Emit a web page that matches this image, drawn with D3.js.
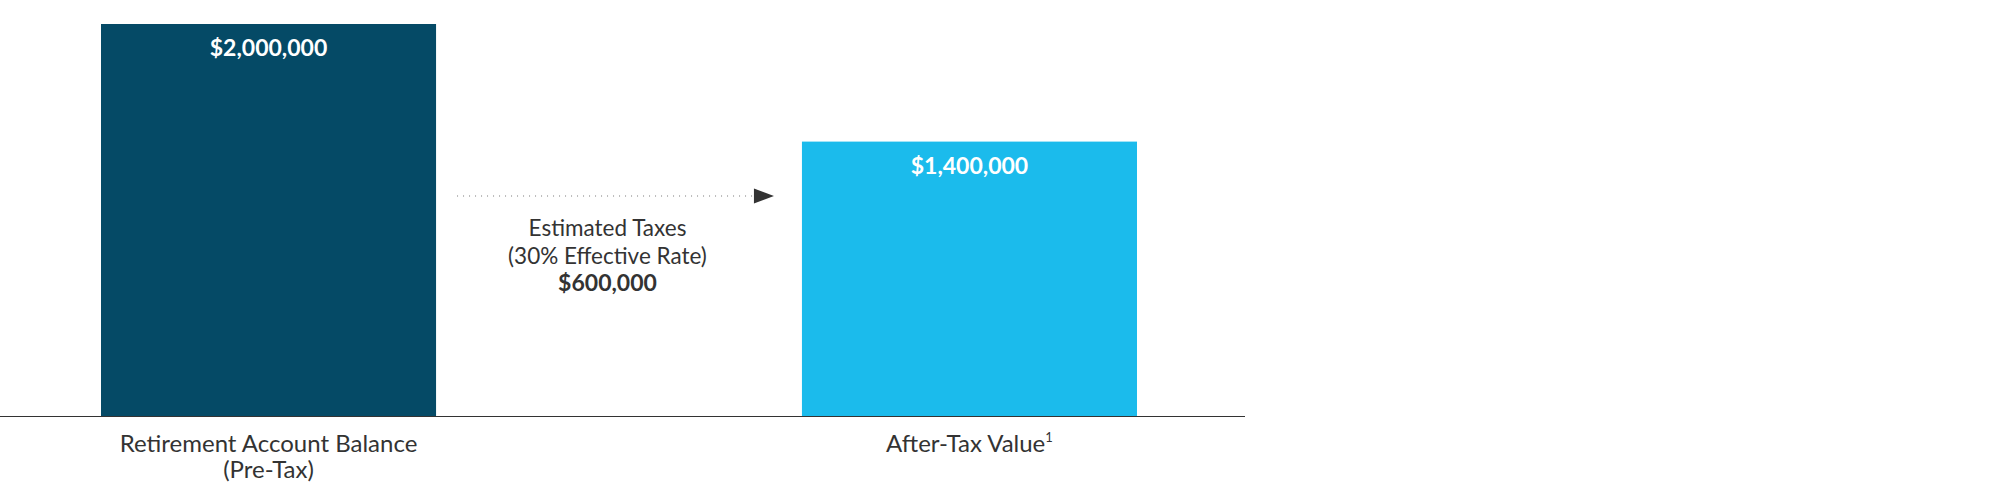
<!DOCTYPE html>
<html>
<head>
<meta charset="utf-8">
<script src="https://cdn.jsdelivr.net/npm/d3@7"></script>
<style>
  body { margin: 0; background: #fff; }
  svg { display: block; font-family: Lato, "Open Sans", sans-serif; }
</style>
</head>
<body>
<svg id="chart"></svg>
<script>
const categories = ['Retirement Account Balance|(Pre-Tax)', 'After-Tax Value']
const values = [2000000, 1400000]
const valueLabels = ['$2,000,000', '$1,400,000']
const barColors = ['#054a66', '#1bbbec']
const taxLines = ['Estimated Taxes', '(30% Effective Rate)']
const taxAmount = '$600,000'

const width = 2000
const height = 499
const baseY = 416

const svg = d3.select('#chart')
    .attr('width', width)
    .attr('height', height)

const xScale = d3.scaleBand()
    .domain(categories)
    .range([101, 1137])
    .paddingInner(0.522)
    .paddingOuter(0)

const yScale = d3.scaleLinear()
    .domain([0, d3.max(values)])
    .range([baseY, 24])

// bars
svg.selectAll('.bar')
    .data(values)
    .join('rect')
    .attr('class', 'bar')
    .attr('x', (v, i) => xScale(categories[i]))
    .attr('y', yScale)
    .attr('width', xScale.bandwidth())
    .attr('height', v => baseY - yScale(v))
    .attr('fill', (v, i) => barColors[i])

// value labels inside the bars
svg.selectAll('.val')
    .data(values)
    .join('text')
    .attr('class', 'val')
    .attr('x', (v, i) => xScale(categories[i]) + xScale.bandwidth() / 2)
    .attr('y', v => yScale(v) + 32)
    .attr('text-anchor', 'middle')
    .attr('fill', '#fff')
    .attr('font-weight', 700)
    .attr('font-size', 23)
    .text((v, i) => valueLabels[i])

// baseline
svg.append('line')
    .attr('x1', 0)
    .attr('x2', 1245)
    .attr('y1', baseY + 0.5)
    .attr('y2', baseY + 0.5)
    .attr('stroke', '#333')
    .attr('stroke-width', 1)

// category labels
const catText = svg.selectAll('.cat')
    .data(categories)
    .join('text')
    .attr('class', 'cat')
    .attr('x', d => xScale(d) + xScale.bandwidth() / 2)
    .attr('y', 452)
    .attr('text-anchor', 'middle')
    .attr('fill', '#333')
    .attr('font-size', 24)

catText.each(function (d) {
    const parts = d.split('|')
    const t = d3.select(this)
    const cx = t.attr('x')
    parts.forEach((p, i) => {
        t.append('tspan')
            .attr('x', cx)
            .attr('dy', i === 0 ? 0 : 26)
            .text(p)
    })
})

// footnote marker on after-tax label
svg.selectAll('.cat').filter(d => d === 'After-Tax Value')
    .select('tspan')
    .append('tspan')
    .attr('font-size', 13)
    .attr('dy', -10)
    .text('1')

// dotted arrow between bars
const arrowY = 196
const x0 = xScale(categories[0]) + xScale.bandwidth() + 21
const x1 = xScale(categories[1]) - 28
svg.append('line')
    .attr('x1', x0)
    .attr('x2', x1 - 20)
    .attr('y1', arrowY)
    .attr('y2', arrowY)
    .attr('stroke', '#777')
    .attr('stroke-width', 1)
    .attr('stroke-dasharray', '1,5')

svg.append('path')
    .attr('d', `M${x1 - 20},${arrowY - 7.5}L${x1},${arrowY}L${x1 - 20},${arrowY + 7.5}Z`)
    .attr('fill', '#333')

// taxes annotation
const midX = (x0 + x1) / 2 - 8
const note = svg.append('text')
    .attr('text-anchor', 'middle')
    .attr('fill', '#333')
    .attr('font-size', 22.5)
taxLines.forEach((l, i) => {
    note.append('tspan')
        .attr('x', midX)
        .attr('y', 236 + i * 28)
        .text(l)
})
note.append('tspan')
    .attr('x', midX)
    .attr('y', 291)
    .attr('font-weight', 700)
    .attr('font-size', 23)
    .text(taxAmount)
</script>
</body>
</html>
